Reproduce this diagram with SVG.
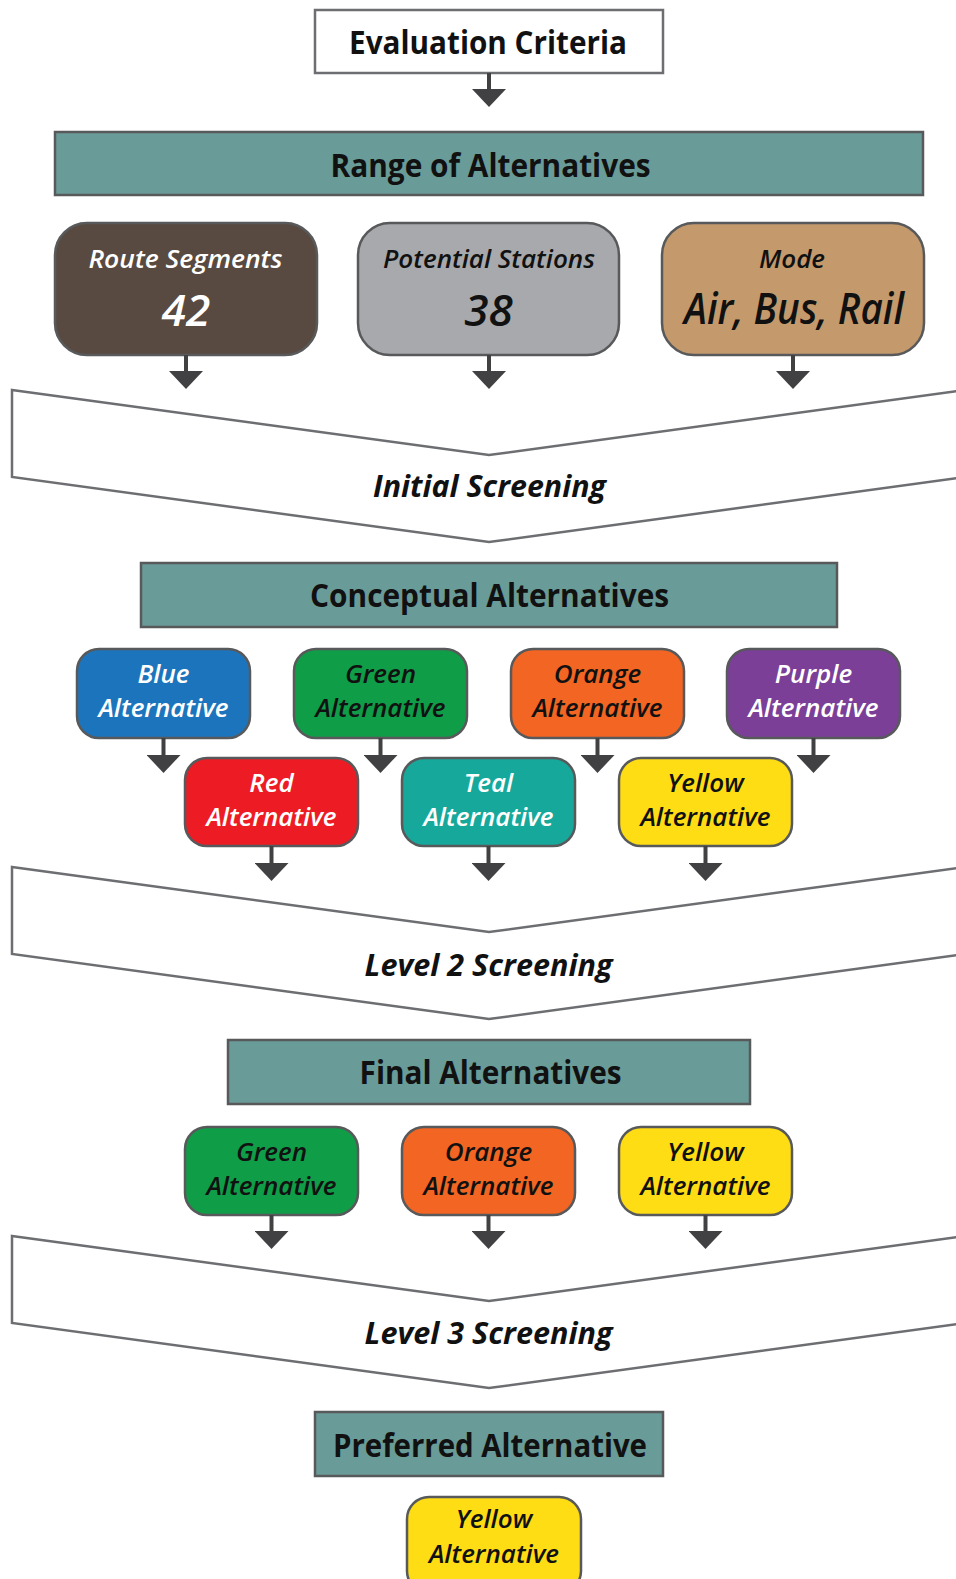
<svg xmlns="http://www.w3.org/2000/svg" width="956" height="1579" viewBox="0 0 956 1579">
<defs>
<style>
.hdr{fill:#699b98;stroke:#58595b;stroke-width:2.5}
.hd{font-family:"Open Sans","Noto Sans","Liberation Sans",sans-serif;font-weight:700;font-size:32px;fill:#111;text-anchor:middle}
.box{stroke:#58595b;stroke-width:2.5}
.lb{font-family:"Open Sans","Noto Sans","Liberation Sans",sans-serif;font-style:italic;font-weight:600;font-size:26px;text-anchor:middle}
.big{font-family:"Open Sans","Noto Sans","Liberation Sans",sans-serif;font-style:italic;font-weight:600;font-size:44px;text-anchor:middle}
.scr{font-family:"Open Sans","Noto Sans","Liberation Sans",sans-serif;font-style:italic;font-weight:700;font-size:30px;fill:#111;text-anchor:middle}
.chev{fill:#fff;stroke:#6d6e71;stroke-width:2.5}
.w{fill:#fff}.k{fill:#111}
.con line{stroke:#414042;stroke-width:4;marker-end:url(#ah)}
</style>
<marker id="ah" viewBox="0 0 18 34" refX="0" refY="17" markerWidth="18" markerHeight="34" markerUnits="userSpaceOnUse" orient="auto"><path d="M0,0 L18,17 L0,34 z" fill="#414042"/></marker>
</defs>
<rect width="956" height="1579" fill="#fff"/>

<g id="screen1"><polygon class="chev" points="12,390 489,455 966,390 966,477 489,542 12,477"/><text class="scr" x="489.5" y="497" textLength="233" lengthAdjust="spacingAndGlyphs">Initial Screening</text></g>
<g id="screen2"><polygon class="chev" points="12,867 489,932 966,867 966,954 489,1019 12,954"/><text class="scr" x="488.6" y="976" textLength="248" lengthAdjust="spacingAndGlyphs">Level 2 Screening</text></g>
<g id="screen3"><polygon class="chev" points="12,1236 489,1301 966,1236 966,1323 489,1388 12,1323"/><text class="scr" x="488.6" y="1344" textLength="248" lengthAdjust="spacingAndGlyphs">Level 3 Screening</text></g>

<g id="eval"><rect x="315" y="10" width="348" height="63" fill="#fff" stroke="#6d6e71" stroke-width="2.5"/><text class="hd" x="488" y="54" textLength="278" lengthAdjust="spacingAndGlyphs">Evaluation Criteria</text></g>
<g id="range"><rect class="hdr" x="55" y="132" width="868" height="63"/><text class="hd" x="490.6" y="177" textLength="320" lengthAdjust="spacingAndGlyphs">Range of Alternatives</text></g>

<g id="route"><rect class="box" x="55" y="223" width="262" height="132" rx="32" fill="#594a41"/><text class="lb w" x="185.4" y="268" textLength="194" lengthAdjust="spacingAndGlyphs">Route Segments</text><text class="big w" x="186" y="326">42</text></g>
<g id="stations"><rect class="box" x="358" y="223" width="261" height="132" rx="32" fill="#a7a9ac"/><text class="lb k" x="489" y="268" textLength="212" lengthAdjust="spacingAndGlyphs">Potential Stations</text><text class="big k" x="488.6" y="326">38</text></g>
<g id="mode"><rect class="box" x="662" y="223" width="262" height="132" rx="32" fill="#c49a6c"/><text class="lb k" x="792" y="268">Mode</text><text class="big k" x="794" y="324" textLength="220" lengthAdjust="spacingAndGlyphs">Air, Bus, Rail</text></g>

<g id="conceptual"><rect class="hdr" x="141" y="563" width="696" height="64"/><text class="hd" x="489.6" y="607" textLength="359" lengthAdjust="spacingAndGlyphs">Conceptual Alternatives</text></g>

<g id="blue"><rect class="box" x="77" y="649" width="173" height="89" rx="22" fill="#1c75bc"/><text class="lb w" x="163.5" y="683">Blue</text><text class="lb w" x="163.5" y="717">Alternative</text></g>
<g id="green"><rect class="box" x="294" y="649" width="173" height="89" rx="22" fill="#109d48"/><text class="lb k" x="380.5" y="683">Green</text><text class="lb k" x="380.5" y="717">Alternative</text></g>
<g id="orange"><rect class="box" x="511" y="649" width="173" height="89" rx="22" fill="#f26522"/><text class="lb k" x="597.5" y="683">Orange</text><text class="lb k" x="597.5" y="717">Alternative</text></g>
<g id="purple"><rect class="box" x="727" y="649" width="173" height="89" rx="22" fill="#7b3f98"/><text class="lb w" x="813.5" y="683">Purple</text><text class="lb w" x="813.5" y="717">Alternative</text></g>
<g id="red"><rect class="box" x="185" y="758" width="173" height="88" rx="22" fill="#ed1c24"/><text class="lb w" x="271.5" y="792">Red</text><text class="lb w" x="271.5" y="826">Alternative</text></g>
<g id="teal"><rect class="box" x="402" y="758" width="173" height="88" rx="22" fill="#16a99b"/><text class="lb w" x="488.5" y="792">Teal</text><text class="lb w" x="488.5" y="826">Alternative</text></g>
<g id="yellow"><rect class="box" x="619" y="758" width="173" height="88" rx="22" fill="#ffdd15"/><text class="lb k" x="705.5" y="792">Yellow</text><text class="lb k" x="705.5" y="826">Alternative</text></g>

<g id="final"><rect class="hdr" x="228" y="1040" width="522" height="64"/><text class="hd" x="490.6" y="1084" textLength="262" lengthAdjust="spacingAndGlyphs">Final Alternatives</text></g>

<g id="fgreen"><rect class="box" x="185" y="1127" width="173" height="88" rx="22" fill="#109d48"/><text class="lb k" x="271.5" y="1161">Green</text><text class="lb k" x="271.5" y="1195">Alternative</text></g>
<g id="forange"><rect class="box" x="402" y="1127" width="173" height="88" rx="22" fill="#f26522"/><text class="lb k" x="488.5" y="1161">Orange</text><text class="lb k" x="488.5" y="1195">Alternative</text></g>
<g id="fyellow"><rect class="box" x="619" y="1127" width="173" height="88" rx="22" fill="#ffdd15"/><text class="lb k" x="705.5" y="1161">Yellow</text><text class="lb k" x="705.5" y="1195">Alternative</text></g>

<g id="preferred"><rect class="hdr" x="315" y="1412" width="348" height="64"/><text class="hd" x="490" y="1457" textLength="314" lengthAdjust="spacingAndGlyphs">Preferred Alternative</text></g>
<g id="pyellow"><rect class="box" x="407" y="1497" width="174" height="96" rx="22" fill="#ffdd15"/><text class="lb k" x="494" y="1528">Yellow</text><text class="lb k" x="494" y="1563">Alternative</text></g>

<g id="connectors" class="con">
<line x1="489" y1="73" x2="489" y2="89"/>
<line x1="186" y1="355" x2="186" y2="371"/>
<line x1="489" y1="355" x2="489" y2="371"/>
<line x1="793" y1="355" x2="793" y2="371"/>
<line x1="163.5" y1="738" x2="163.5" y2="755"/>
<line x1="380.5" y1="738" x2="380.5" y2="755"/>
<line x1="597.5" y1="738" x2="597.5" y2="755"/>
<line x1="813.5" y1="738" x2="813.5" y2="755"/>
<line x1="271.5" y1="846" x2="271.5" y2="863"/>
<line x1="488.5" y1="846" x2="488.5" y2="863"/>
<line x1="705.5" y1="846" x2="705.5" y2="863"/>
<line x1="271.5" y1="1215" x2="271.5" y2="1231"/>
<line x1="488.5" y1="1215" x2="488.5" y2="1231"/>
<line x1="705.5" y1="1215" x2="705.5" y2="1231"/>
</g>
</svg>
